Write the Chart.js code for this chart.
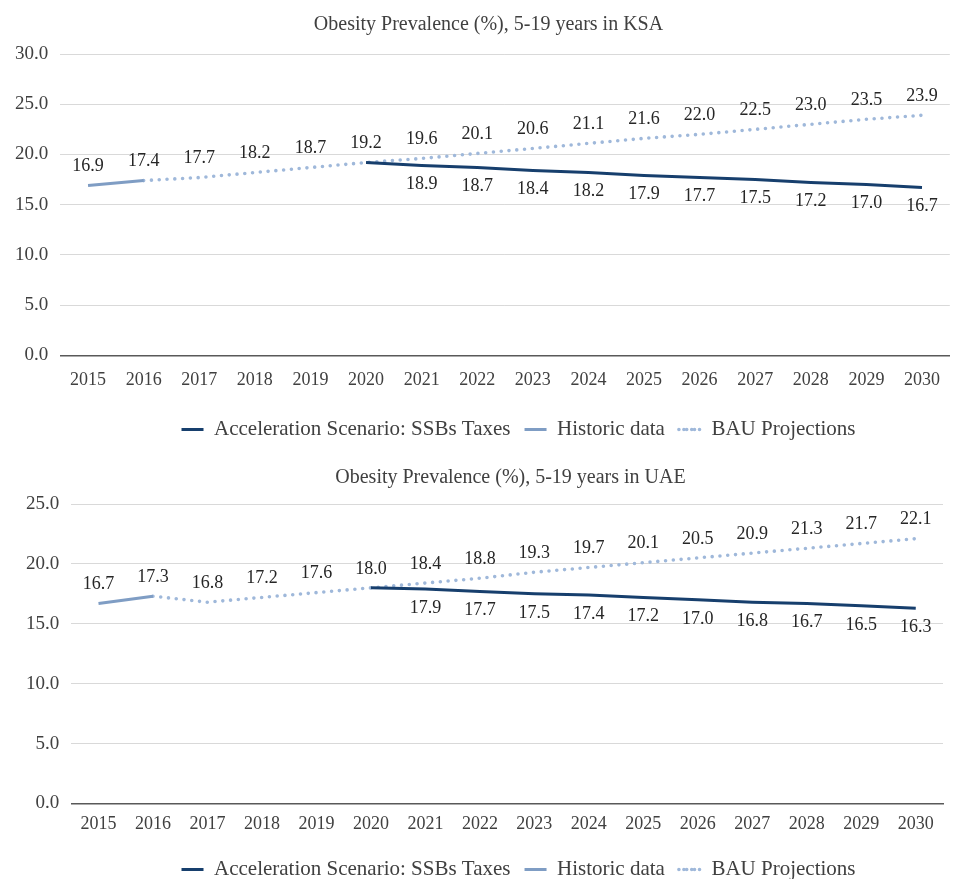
<!DOCTYPE html>
<html>
<head>
<meta charset="utf-8">
<script src="https://cdn.jsdelivr.net/npm/chart.js@4.4.0/dist/chart.umd.min.js"></script>
<style>
  body { margin: 0; background: #fff; overflow: hidden; }
  #top { position: relative; width: 954px; height: 450px; }
  #bottom { position: relative; width: 954px; height: 440px; }
</style>
</head>
<body>
<div id="top"><canvas id="ksa"></canvas></div>
<div id="bottom"><canvas id="uae"></canvas></div>
<script>
const years = ['2015', '2016', '2017', '2018', '2019', '2020', '2021', '2022',
    '2023', '2024', '2025', '2026', '2027', '2028', '2029', '2030'];

// KSA
const ksaAccel = [null, null, null, null, null, 19.2, 18.9, 18.7, 18.4, 18.2, 17.9, 17.7, 17.5, 17.2, 17.0, 16.7];
const ksaHistoric = [16.9, 17.4, null, null, null, null, null, null, null, null, null, null, null, null, null, null];
const ksaBau = [null, 17.4, 17.7, 18.2, 18.7, 19.2, 19.6, 20.1, 20.6, 21.1, 21.6, 22.0, 22.5, 23.0, 23.5, 23.9];

// UAE
const uaeAccel = [null, null, null, null, null, 18.0, 17.9, 17.7, 17.5, 17.4, 17.2, 17.0, 16.8, 16.7, 16.5, 16.3];
const uaeHistoric = [16.7, 17.3, null, null, null, null, null, null, null, null, null, null, null, null, null, null];
const uaeBau = [null, 17.3, 16.8, 17.2, 17.6, 18.0, 18.4, 18.8, 19.3, 19.7, 20.1, 20.5, 20.9, 21.3, 21.7, 22.1];

const FONT = '"Liberation Serif", "DejaVu Serif", serif';
const TEXT = '#404040';

// draws the value next to every point (no datalabels plugin available offline)
const valueLabels = {
    id: 'valueLabels',
    afterDatasetsDraw(chart) {
        const ctx = chart.ctx;
        ctx.save();
        ctx.font = '18px ' + FONT;
        ctx.fillStyle = '#262626';
        ctx.textAlign = 'center';
        ctx.textBaseline = 'middle';
        chart.data.datasets.forEach((ds, i) => {
            const meta = chart.getDatasetMeta(i);
            meta.data.forEach((pt, j) => {
                const v = ds.data[j];
                if (v === null || (ds.skipLabels || []).includes(j)) return;
                const dy = ds.labelBelow ? 19 : -19;
                ctx.fillText(v.toFixed(1), pt.x, pt.y + dy);
            });
        });
        ctx.restore();
    }
};

// title and legend sit a bit right of centre in the original
const boxShift = {
    id: 'boxShift',
    afterLayout(chart, args, opts) {
        chart.legend.left += opts.legend;
        chart.legend.right += opts.legend;
        chart.titleBlock.left += opts.title;
        chart.titleBlock.right += opts.title;
    }
};

function makeChart(id, title, accel, historic, bau, yMax, pad, titlePad, xPad, titleShift) {
    return new Chart(document.getElementById(id), {
        type: 'line',
        data: {
            labels: years,
            datasets: [
                {
                    label: 'Acceleration Scenario: SSBs Taxes',
                    data: accel,
                    borderColor: '#173f6d',
                    backgroundColor: 'transparent',
                    borderWidth: 3,
                    pointRadius: 0,
                    labelBelow: true,
                    skipLabels: [5]
                },
                {
                    label: 'Historic data',
                    data: historic,
                    borderColor: '#7f9dc4',
                    backgroundColor: 'transparent',
                    borderWidth: 3,
                    pointRadius: 0
                },
                {
                    label: 'BAU Projections',
                    data: bau,
                    borderColor: '#9fb8da',
                    backgroundColor: 'transparent',
                    borderWidth: 3.6,
                    borderDash: [0, 7.8],
                    borderCapStyle: 'round',
                    pointRadius: 0,
                    skipLabels: [1]
                }
            ]
        },
        options: {
            maintainAspectRatio: false,
            responsive: true,
            animation: false,
            layout: { padding: pad },
            plugins: {
                tooltip: { enabled: false },
                boxShift: { legend: 40, title: titleShift },
                title: {
                    display: true,
                    text: title,
                    color: TEXT,
                    font: { family: FONT, size: 20, weight: 'normal' },
                    padding: { top: 0, bottom: titlePad }
                },
                legend: {
                    position: 'bottom',
                    labels: {
                        color: TEXT,
                        font: { family: FONT, size: 21 },
                        boxWidth: 22,
                        boxHeight: 0,
                        padding: 14
                    }
                }
            },
            scales: {
                x: {
                    offset: true,
                    grid: { display: false, drawTicks: false },
                    border: { color: '#595959', width: 1.5 },
                    ticks: { color: TEXT, font: { family: FONT, size: 18 }, padding: xPad, maxRotation: 0 }
                },
                y: {
                    min: 0,
                    max: yMax,
                    grid: { color: '#d9d9d9', drawTicks: false },
                    border: { display: false },
                    ticks: {
                        stepSize: 5,
                        color: TEXT,
                        font: { family: FONT, size: 19 },
                        padding: 12,
                        callback: v => v.toFixed(1)
                    }
                }
            }
        },
        plugins: [valueLabels, boxShift]
    });
}

makeChart('ksa', 'Obesity Prevalence (%), 5-19 years in KSA', ksaAccel, ksaHistoric, ksaBau, 30,
    { top: 13, left: 3, right: 0, bottom: 0 }, 17, 14, 10);
makeChart('uae', 'Obesity Prevalence (%), 5-19 years in UAE', uaeAccel, uaeHistoric, uaeBau, 25,
    { top: 16, left: 14, right: 11, bottom: 0 }, 14, 10, 32);
</script>
</body>
</html>
